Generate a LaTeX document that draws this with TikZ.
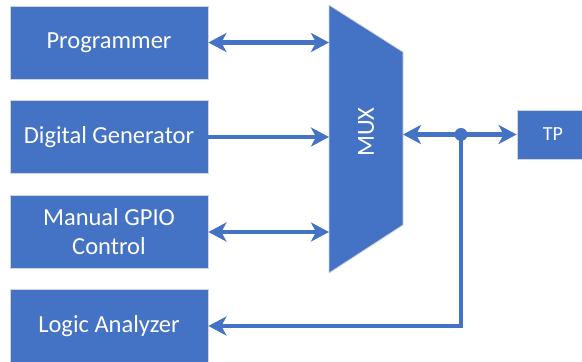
\documentclass[tikz,border=0pt]{standalone}
\usepackage{fontspec}
\setmainfont{Carlito}
\usetikzlibrary{arrows.meta}
\definecolor{blu}{HTML}{4472C4}
\definecolor{edge}{HTML}{D0D4DC}
\begin{document}
\begin{tikzpicture}[x=1pt,y=-1pt,
  blk/.style={fill=blu, draw=edge, line width=0.8pt, text=white,
    font=\fontsize{24.5}{29}\selectfont, align=center, inner sep=0pt,
    minimum width=198pt, minimum height=73pt},
  tip/.tip={Stealth[length=18pt,width=19pt,inset=5pt]},
  conn/.style={draw=blu, line width=4.3pt, -tip},
  biconn/.style={draw=blu, line width=4.3pt, tip-tip}]
\useasboundingbox (0,0) rectangle (582,362);
% blocks
\node[blk] (prog) at (109,42.5) {Programmer};
\node[blk] (dgen) at (109,137) {Digital Generator};
\node[blk] (gpio) at (109,232) {Manual GPIO\\Control};
\node[blk] (la) at (109,326) {Logic Analyzer};
\node[blk, minimum width=72pt, minimum height=49pt, font=\fontsize{20}{24}\selectfont] (tp) at (553,134.5) {TP};
% MUX
\filldraw[fill=blu, draw=edge, line width=0.8pt] (329,5) -- (403,52) -- (403,225) -- (329,273) -- cycle;
\node[rotate=90, text=white, font=\fontsize{24.5}{29}\selectfont] (muxlabel) at (366,132) {MUX};
\coordinate (m1) at (329,42.5);
\coordinate (m2) at (329,137);
\coordinate (m3) at (329,232);
\coordinate (mout) at (403,134.5);
\coordinate (corner) at (461,326);
\node[circle, fill=blu, minimum size=13pt, inner sep=0pt] (jct) at (461,134.5) {};
% connectors
\draw[biconn] (prog.east) -- (m1);
\draw[conn] (dgen.east) -- (m2);
\draw[biconn] (gpio.east) -- (m3);
\draw[biconn] (mout) -- (tp.west);
\draw[conn] (jct.center) -- (corner) -- (la.east);
\end{tikzpicture}
\end{document}
